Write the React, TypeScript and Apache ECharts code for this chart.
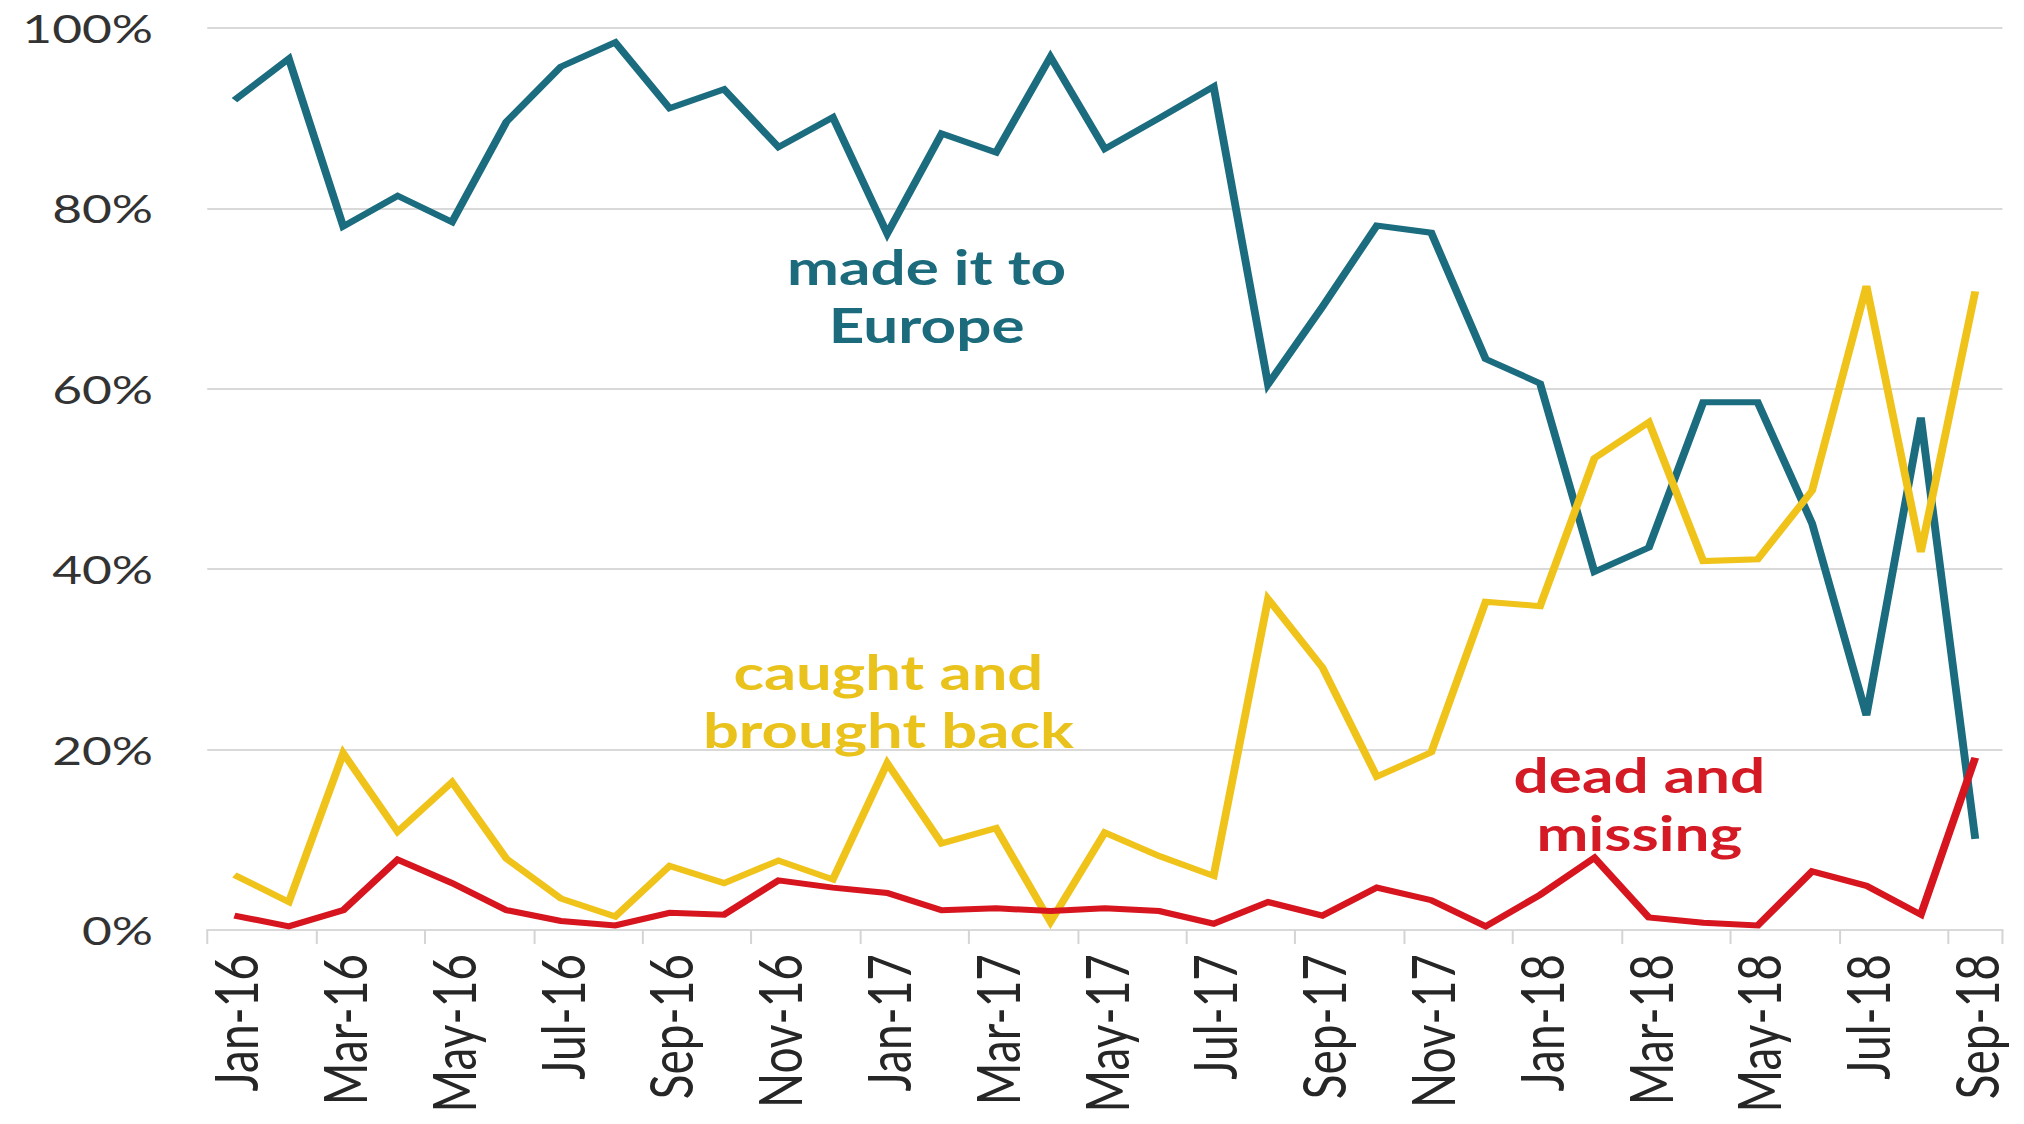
import React, { useEffect, useRef } from "react";
import * as echarts from "echarts";

const months = [
  "Jan-16","Feb-16","Mar-16","Apr-16","May-16","Jun-16","Jul-16","Aug-16","Sep-16","Oct-16","Nov-16","Dec-16",
  "Jan-17","Feb-17","Mar-17","Apr-17","May-17","Jun-17","Jul-17","Aug-17","Sep-17","Oct-17","Nov-17","Dec-17",
  "Jan-18","Feb-18","Mar-18","Apr-18","May-18","Jun-18","Jul-18","Aug-18","Sep-18",
];

const madeItToEurope = [
  92, 96.6, 78, 81.4, 78.5, 89.6, 95.7, 98.4, 91.1, 93.2, 86.8, 90.1,
  77.2, 88.3, 86.2, 96.8, 86.6, 90, 93.5, 60.5, 69.1, 78.1, 77.3, 63.3,
  60.6, 39.7, 42.4, 58.5, 58.5, 45.1, 23.8, 56.8, 10.1,
];

const caughtAndBroughtBack = [
  6.1, 3.1, 19.6, 10.9, 16.4, 7.9, 3.5, 1.5, 7.1, 5.2, 7.7, 5.6,
  18.5, 9.6, 11.3, 0.9, 10.8, 8.2, 6, 36.7, 29.1, 17, 19.7, 36.4,
  35.9, 52.3, 56.3, 40.9, 41.1, 48.7, 71.4, 41.9, 70.8,
];

const deadAndMissing = [
  1.6, 0.4, 2.2, 7.8, 5.2, 2.2, 1, 0.5, 1.9, 1.7, 5.5, 4.7,
  4.1, 2.2, 2.4, 2.1, 2.4, 2.1, 0.7, 3.1, 1.6, 4.7, 3.3, 0.4,
  3.9, 8, 1.4, 0.8, 0.5, 6.5, 4.9, 1.7, 19.1,
];

const yTicks = { min: 0, max: 100, interval: 20 };

const seriesNames = ["made it to Europe", "caught and brought back", "dead and missing"];
const colors = ["#1b6c7e", "#f0c31a", "#d6151f"];

const S = 1.32;
const W = Math.round(2024 / S);
const H = 1124;

export default function App() {
  const ref = useRef<HTMLDivElement>(null);

  useEffect(() => {
    if (!ref.current) return;
    const chart = echarts.init(ref.current, undefined, { renderer: "svg" });
    const font = "Lato, 'Open Sans', sans-serif";
    const mkText = (text: string, x: number, y: number, fill: string, size: number) => ({
      type: "text",
      x,
      y,
      z: 100,
      style: {
        text,
        fill,
        fontSize: size,
        fontWeight: "bold",
        fontFamily: font,
        font: `bold ${size}px ${font}`,
        align: "center",
        verticalAlign: "middle",
        textAlign: "center",
        textVerticalAlign: "middle",
        lineHeight: 58,
      },
    });
    chart.setOption({
      animation: false,
      backgroundColor: "#ffffff",
      grid: { left: 157, right: 16, top: 28, bottom: 194 },
      xAxis: {
        type: "category",
        data: months,
        boundaryGap: true,
        axisLine: { show: true, lineStyle: { color: "#d9d9d9", width: 2 } },
        axisTick: { show: true, interval: 1, length: 14, lineStyle: { color: "#d4d4d4", width: 1.5 } },
        axisLabel: {
          interval: 1,
          rotate: 90,
          margin: 24,
          fontSize: 46,
          fontFamily: font,
          color: "#262626",
        },
        splitLine: { show: false },
      },
      yAxis: {
        type: "value",
        min: yTicks.min,
        max: yTicks.max,
        interval: yTicks.interval,
        axisLine: { show: false },
        axisTick: { show: false },
        axisLabel: {
          formatter: "{value}%",
          fontSize: 39,
          margin: 41,
          fontFamily: font,
          color: "#333333",
        },
        splitLine: { show: true, lineStyle: { color: "#d9d9d9", width: 2 } },
      },
      series: [madeItToEurope, caughtAndBroughtBack, deadAndMissing].map((d, i) => ({
        name: seriesNames[i],
        type: "line",
        data: d,
        showSymbol: false,
        symbol: "none",
        lineStyle: { color: colors[i], width: 6, join: "miter", miterLimit: 4 },
        itemStyle: { color: colors[i] },
        z: 2 + i,
      })),
      graphic: [
        mkText("made it to\nEurope", 702, 296, "#1b6b7d", 47),
        mkText("caught and\nbrought back", 673, 701, "#eac21c", 48),
        mkText("dead and\nmissing", 1242, 804, "#d41a24", 47),
      ],
    });
    return () => chart.dispose();
  }, []);

  return (
    <div
      ref={ref}
      style={{
        position: "absolute",
        left: 0,
        top: 0,
        width: W,
        height: H,
        transform: `scaleX(${S})`,
        transformOrigin: "0 0",
      }}
    />
  );
}
